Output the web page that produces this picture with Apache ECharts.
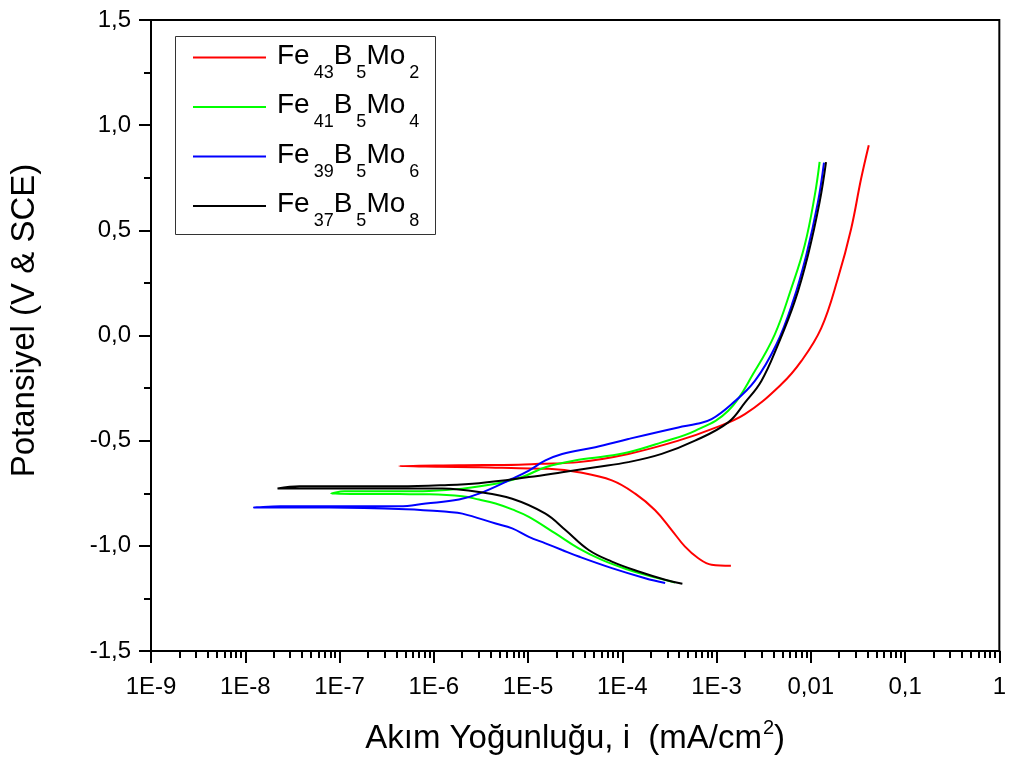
<!DOCTYPE html>
<html><head><meta charset="utf-8">
<script src="https://cdn.jsdelivr.net/npm/echarts@6/dist/echarts.min.js"></script>
<style>html,body{margin:0;padding:0;background:#fff}#c{width:1009px;height:765px}</style>
</head><body><div id="c"></div>
<script>
// ---------- data ----------
const seriesNames = ['Fe43B5Mo2', 'Fe41B5Mo4', 'Fe39B5Mo6', 'Fe37B5Mo8'];
const seriesColors = ['#ff0000', '#00ff00', '#0000ff', '#000000'];
const legendSubs = [['43', '5', '2'], ['41', '5', '4'], ['39', '5', '6'], ['37', '5', '8']];
const xTickLabels = ['1E-9', '1E-8', '1E-7', '1E-6', '1E-5', '1E-4', '1E-3', '0,01', '0,1', '1'];
const yTickLabels = ['-1,5', '-1,0', '-0,5', '0,0', '0,5', '1,0', '1,5'];

// Fe43B5Mo2 (mA/cm2, V)
const fe43Current = [1.42e-3, 8.85e-4, 6.40e-4, 4.63e-4, 3.34e-4, 2.23e-4, 1.37e-4, 7.75e-5, 3.45e-5, 1.66e-5, 8.0e-6, 3.02e-6, 1.14e-6, 4.30e-7,
  1.85e-6, 8.0e-6, 1.30e-5, 3.45e-5, 1.16e-4, 3.93e-4, 8.85e-4, 2.0e-3, 4.87e-3, 7.92e-3, 1.29e-2, 1.94e-2, 2.68e-2, 3.41e-2, 4.12e-2];
const fe43Potential = [-1.095, -1.090, -1.059, -1.004, -0.925, -0.831, -0.752, -0.689, -0.650, -0.634, -0.631, -0.626, -0.624, -0.621,
  -0.617, -0.614, -0.610, -0.602, -0.563, -0.500, -0.445, -0.374, -0.232, -0.122, 0.035, 0.272, 0.508, 0.744, 0.905];

// Fe41B5Mo4
const fe41Current = [3.63e-4, 1.75e-4, 1.16e-4, 6.08e-5, 3.45e-5, 1.95e-5, 1.02e-5, 6.79e-6, 4.53e-6, 3.02e-6, 2.01e-6, 8.93e-7, 4.30e-7, 8.15e-8,
  1.13e-7, 4.30e-7, 8.93e-7, 2.0e-6, 4.53e-6, 8.66e-6, 1.53e-5, 3.45e-5, 5.61e-5, 1.16e-4, 2.62e-4, 5.91e-4, 1.33e-3, 2.55e-3, 4.14e-3, 6.21e-3, 8.61e-3, 1.10e-2, 1.24e-2];
const fe41Potential = [-1.174, -1.138, -1.114, -1.067, -1.012, -0.941, -0.862, -0.827, -0.799, -0.780, -0.764, -0.755, -0.754, -0.752,
  -0.741, -0.741, -0.739, -0.728, -0.705, -0.673, -0.626, -0.591, -0.579, -0.555, -0.508, -0.453, -0.358, -0.169, 0.004, 0.224, 0.429, 0.665, 0.826];

// Fe39B5Mo6
const fe39Current = [2.85e-4, 1.75e-4, 7.75e-5, 3.45e-5, 2.30e-5, 1.53e-5, 1.02e-5, 6.79e-6, 4.53e-6, 2.01e-6, 1.45e-6, 5.07e-7, 7.82e-8, 1.24e-8,
  2.36e-8, 4.30e-7, 8.24e-7, 1.85e-6, 3.02e-6, 6.79e-6, 1.02e-5, 1.53e-5, 2.30e-5, 5.18e-5, 1.16e-4, 3.93e-4, 6.20e-4, 8.85e-4, 1.44e-3, 2.55e-3, 4.31e-3, 6.47e-3, 8.95e-3, 1.19e-2, 1.38e-2];
const fe39Potential = [-1.177, -1.154, -1.106, -1.051, -1.020, -0.988, -0.957, -0.917, -0.894, -0.847, -0.839, -0.826, -0.818, -0.818,
  -0.812, -0.812, -0.799, -0.780, -0.752, -0.681, -0.642, -0.594, -0.563, -0.531, -0.492, -0.437, -0.420, -0.398, -0.327, -0.216, -0.043, 0.162, 0.382, 0.634, 0.822];

// Fe37B5Mo8
const fe37Current = [4.34e-4, 2.85e-4, 1.49e-4, 7.75e-5, 4.40e-5, 2.49e-5, 1.53e-5, 6.79e-6, 3.02e-6, 1.23e-6, 4.30e-7, 2.20e-8,
  3.77e-8, 4.30e-7, 1.23e-6, 3.02e-6, 1.02e-5, 2.30e-5, 5.18e-5, 1.16e-4, 2.62e-4, 5.91e-4, 1.33e-3, 2.0e-3, 2.99e-3, 4.49e-3, 6.75e-3, 9.33e-3, 1.24e-2, 1.45e-2];
const fe37Potential = [-1.180, -1.161, -1.122, -1.075, -1.020, -0.925, -0.847, -0.776, -0.744, -0.728, -0.727, -0.727,
  -0.717, -0.717, -0.712, -0.702, -0.673, -0.650, -0.626, -0.602, -0.563, -0.500, -0.413, -0.319, -0.216, -0.043, 0.162, 0.382, 0.634, 0.824];

// ---------- chart ----------
const FONT = '"Liberation Sans", Arial, sans-serif';
const allCurrent = [fe43Current, fe41Current, fe39Current, fe37Current];
const allPotential = [fe43Potential, fe41Potential, fe39Potential, fe37Potential];
function pairs(cur, pot) { return cur.map((c, i) => [c, pot[i]]); }

const minorXTicks = [];
for (let d = -9; d < 0; d++) for (let m = 2; m <= 9; m++) minorXTicks.push(Number((m * Math.pow(10, d)).toPrecision(3)));

const legendRich = {
  f: { fontSize: 28, fontFamily: FONT, color: '#000', lineHeight: 30, padding: [0, 0, 3, 6], verticalAlign: 'middle' },
  n: { fontSize: 28, fontFamily: FONT, color: '#000', lineHeight: 30, padding: [0, 0, 3, 0], verticalAlign: 'middle' },
  s: { fontSize: 18, fontFamily: FONT, color: '#000', lineHeight: 2, padding: [31, 0, 0, 4], verticalAlign: 'middle' }
};

const chart = echarts.init(document.getElementById('c'), null, { renderer: 'canvas' });
chart.setOption({
  animation: false,
  backgroundColor: '#ffffff',
  grid: { left: 151, right: 7, top: 20, bottom: 110, show: true, borderColor: '#000', borderWidth: 2, backgroundColor: 'transparent' },
  graphic: [{
    type: 'rect', z: 5, silent: true,
    shape: { x: 175.5, y: 36.5, width: 260, height: 198 },
    style: { fill: 'none', stroke: '#333', lineWidth: 1 }
  }],
  legend: {
    data: seriesNames, orient: 'vertical', left: 193, top: 33,
    icon: 'rect', itemWidth: 73, itemHeight: 2, itemGap: 0.5,
    padding: 0,
    textStyle: { rich: legendRich },
    formatter: function (name) {
      const s = legendSubs[seriesNames.indexOf(name)];
      return '{f|Fe}{s|' + s[0] + '}{n|B}{s|' + s[1] + '}{n|Mo}{s|' + s[2] + '}';
    }
  },
  xAxis: [{
    type: 'log', logBase: 10, min: 1e-9, max: 1, position: 'bottom',
    axisLine: { show: true, onZero: false, lineStyle: { color: '#000', width: 2 } },
    axisTick: { show: true, length: 12, lineStyle: { color: '#000', width: 2 } },
    axisLabel: { fontSize: 24, color: '#000', fontFamily: FONT, margin: 24,
      formatter: function (v) { return xTickLabels[Math.round(Math.log10(v)) + 9]; } },
    splitLine: { show: false },
    name: '{a|Akım Yoğunluğu, i  (mA/cm}{s|2}{a|)}', nameLocation: 'middle', nameGap: 68,
    nameTextStyle: { rich: {
      a: { fontSize: 33, fontFamily: FONT, color: '#000', lineHeight: 40, verticalAlign: 'middle' },
      s: { fontSize: 20, fontFamily: FONT, color: '#000', lineHeight: 20, padding: [0, 0, 22, 1], verticalAlign: 'middle' }
    } }
  }, {
    type: 'log', logBase: 10, min: 1e-9, max: 1, position: 'bottom',
    axisLine: { show: false, onZero: false },
    axisTick: { show: true, length: 7, customValues: minorXTicks, lineStyle: { color: '#000', width: 2 } },
    axisLabel: { show: false },
    splitLine: { show: false }
  }],
  yAxis: {
    type: 'value', min: -1.5, max: 1.5, interval: 0.5,
    axisLine: { show: true, onZero: false, lineStyle: { color: '#000', width: 2 } },
    axisTick: { show: true, length: 12, lineStyle: { color: '#000', width: 2 } },
    minorTick: { show: true, splitNumber: 2, length: 7, lineStyle: { color: '#000', width: 2 } },
    axisLabel: { fontSize: 24, color: '#000', fontFamily: FONT, margin: 20,
      formatter: function (v) { return yTickLabels[Math.round((v + 1.5) / 0.5)]; } },
    splitLine: { show: false }, minorSplitLine: { show: false },
    name: 'Potansiyel (V & SCE)', nameLocation: 'middle', nameGap: 110,
    nameTextStyle: { fontSize: 33, color: '#000', fontFamily: FONT, padding: [0, 0, 0, 30] }
  },
  series: seriesNames.map((n, k) => ({
    name: n, type: 'line', xAxisIndex: 0, yAxisIndex: 0,
    data: pairs(allCurrent[k], allPotential[k]),
    symbol: 'none', smooth: 0.4,
    lineStyle: { width: 2, color: seriesColors[k] },
    itemStyle: { color: seriesColors[k] }
  }))
});
</script>
</body></html>
